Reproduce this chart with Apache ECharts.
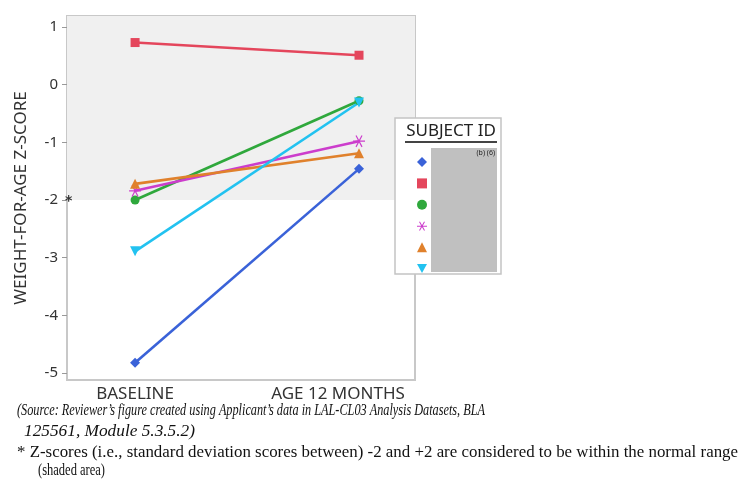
<!DOCTYPE html>
<html>
<head>
<meta charset="utf-8">
<script src="https://cdn.jsdelivr.net/npm/echarts@6/dist/echarts.min.js"></script>
<style>
html,body{margin:0;padding:0;background:#fff;}
#chart{width:741px;height:479px;}
</style>
</head>
<body>
<div id="chart"></div>
<script>
// ---- data ----
var timepoints = ['BASELINE', 'AGE 12 MONTHS'];
var subjectNames = ['S1', 'S2', 'S3', 'S4', 'S5', 'S6'];
var subj1 = [-4.82, -1.46];  // blue diamond
var subj2 = [0.73, 0.51];    // red square
var subj3 = [-2.00, -0.28];  // green circle
var subj4 = [-1.84, -0.98];  // magenta asterisk
var subj5 = [-1.72, -1.19];  // orange triangle
var subj6 = [-2.89, -0.31];  // cyan inverted triangle
var yTicks = [-5, -4, -3, -2, -1, 0, 1];
var normalLow = -2, normalHigh = 2;

var colors = ['#3a62d8', '#e4465c', '#2fa83c', '#cc3dcc', '#e0812c', '#22c2f0'];
var asterisk = 'path://M0 9 L20 9 L20 11 L0 11 Z M5.87 0.84 L15.87 18.16 L14.13 19.16 L4.13 1.84 Z M15.87 1.84 L5.87 19.16 L4.13 18.16 L14.13 0.84 Z';
var invTri = 'path://M0 0 L10 0 L5 9 Z';
var symbols = ['diamond', 'rect', 'circle', asterisk, 'triangle', invTri];
var sizes = [10, 9, 9, 12, 10, 10];
var allData = [subj1, subj2, subj3, subj4, subj5, subj6];

var series = allData.map(function (vals, i) {
  return {
    name: subjectNames[i],
    type: 'line',
    z: 5,
    data: vals.map(function (v, j) { return [j, v]; }),
    symbol: symbols[i],
    symbolSize: sizes[i],
    lineStyle: { color: colors[i], width: 2.6 },
    itemStyle: { color: colors[i] },
    emphasis: { disabled: true },
    animation: false
  };
});
series.unshift({
  type: 'line',
  z: 1,
  data: [],
  silent: true,
  animation: false,
  markArea: {
    silent: true,
    itemStyle: { color: '#f0f0f0' },
    data: [[{ yAxis: normalLow }, { yAxis: normalHigh }]]
  }
});

var chart = echarts.init(document.getElementById('chart'), null, { renderer: 'canvas' });

var sansFont = 'Noto Sans';
function measure(txt, font) {
  var c = document.createElement('canvas').getContext('2d');
  c.font = font;
  return c.measureText(txt).width;
}
function fitText(txt, x, y, targetW, style, size, family) {
  var font = style + ' ' + size + 'px "' + family + '"';
  var w = measure(txt, font);
  return {
    type: 'text', x: x, y: y, scaleX: targetW / w, z: 50,
    style: { text: txt, font: font, fill: '#111', verticalAlign: 'middle' }
  };
}

var option = {
  backgroundColor: '#fff',
  animation: false,
  grid: {
    left: 67, top: 16, right: 326, bottom: 99,
    show: true, borderColor: '#c8c8c8', borderWidth: 2, backgroundColor: '#fff'
  },
  xAxis: {
    type: 'value', min: -0.304, max: 1.25,
    axisLine: { show: true, onZero: false, lineStyle: { color: '#c8c8c8', width: 2 } },
    axisTick: { show: false },
    splitLine: { show: false },
    axisLabel: {
      customValues: [0, 1], margin: 6,
      fontFamily: sansFont, fontSize: 17, color: '#333',
      formatter: function (v) {
        if (v === 0) return timepoints[0];
        return '{r|' + timepoints[1] + '}';
      },
      rich: { r: { fontFamily: sansFont, fontSize: 17, color: '#333', padding: [0, 42, 0, 0] } }
    }
  },
  yAxis: {
    type: 'value', min: -5.12, max: 1.19,
    name: 'WEIGHT-FOR-AGE Z-SCORE', nameLocation: 'middle', nameGap: 37,
    nameTextStyle: { fontFamily: sansFont, fontSize: 17, color: '#333' },
    axisLine: { show: true, onZero: false, lineStyle: { color: '#c8c8c8', width: 2 } },
    axisTick: { show: true, customValues: yTicks, length: 5, lineStyle: { color: '#999' } },
    splitLine: { show: false },
    axisLabel: { customValues: yTicks, margin: 9, fontFamily: sansFont, fontSize: 15, color: '#333' }
  },
  legend: {
    orient: 'vertical', left: 412, top: 152, z: 30,
    itemWidth: 10, itemHeight: 10, itemGap: 11.4,
    formatter: function () { return ''; },
    selectedMode: false,
    data: subjectNames.map(function (n, i) {
      return { name: n, icon: symbols[i] };
    })
  },
  graphic: [
    { type: 'rect', z: 20, shape: { x: 395, y: 118, width: 106, height: 156 },
      style: { fill: '#fff', stroke: '#c4c4c4', lineWidth: 1.5 } },
    { type: 'text', z: 25, x: 451, y: 131,
      style: { text: 'SUBJECT ID', font: '17px "Noto Sans"', fill: '#222', align: 'center', verticalAlign: 'middle' } },
    { type: 'line', z: 25, shape: { x1: 405, y1: 142, x2: 497, y2: 142 },
      style: { stroke: '#444', lineWidth: 2 } },
    { type: 'rect', z: 40, shape: { x: 431, y: 148, width: 66, height: 124 },
      style: { fill: '#c0c0c0' } },
    { type: 'text', z: 41, x: 495, y: 153,
      style: { text: '(b) (6)', font: '7px "Noto Sans"', fill: '#222', align: 'right', verticalAlign: 'middle' } },
    { type: 'text', z: 41, x: 65, y: 201,
      style: { text: '*', font: 'bold 14px "DejaVu Sans"', fill: '#333', verticalAlign: 'middle' } },
    fitText('(Source: Reviewer\u2019s figure created using Applicant\u2019s data in LAL-CL03 Analysis Datasets, BLA', 17, 411, 468, 'italic', 16, 'Liberation Serif'),
    fitText('125561, Module 5.3.5.2)', 24, 432, 171, 'italic', 16, 'Liberation Serif'),
    fitText('* Z-scores (i.e., standard deviation scores between) -2 and +2 are considered to be within the normal range', 17, 453, 721, 'normal', 16, 'Liberation Serif'),
    fitText('(shaded area)', 38, 471, 67, 'normal', 16, 'Liberation Serif')
  ],
  series: series
};
chart.setOption(option);
</script>
</body>
</html>
